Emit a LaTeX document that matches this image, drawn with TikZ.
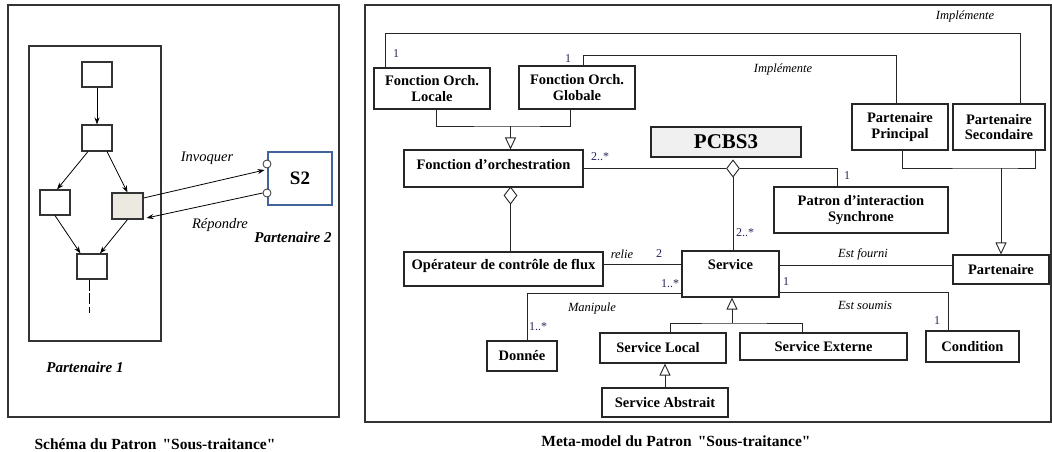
\documentclass[tikz,border=0pt]{standalone}
\usepackage{fontspec}
\setmainfont{Liberation Serif}
\newfontfamily\droit{Liberation Serif}
\newcommand\guil{{\droit\symbol{34}}}
\usepackage{xcolor}
\usetikzlibrary{arrows.meta, shapes.geometric}

\definecolor{bleuS}{RGB}{65,100,155}
\definecolor{grisTache}{RGB}{236,234,224}
\definecolor{grisPCBS}{RGB}{240,240,240}
\definecolor{cardi}{RGB}{35,35,85}

\begin{document}
\begin{tikzpicture}[x=1pt, y=-1pt,
    cadre/.style={draw=black!80, line width=1.2pt},
    tache/.style={draw=black!80, line width=1.1pt, minimum width=30, minimum height=25, inner sep=0pt},
    flux/.style={-{Stealth[length=7pt, width=5pt]}, line width=0.8pt},
    port/.style={circle, draw=black!80, fill=white, line width=0.8pt, minimum size=8, inner sep=0pt},
    classe/.style={draw=black!85, line width=1.1pt, inner sep=0pt, align=center, font=\fontsize{14.5}{15.5}\selectfont\bfseries},
    lien/.style={draw=black!85, line width=0.9pt},
    herite/.style={lien, -{Triangle[open, length=12pt, width=11pt]}},
    agreg/.style={diamond, draw=black!85, line width=0.9pt, fill=white, minimum width=13, minimum height=17, inner sep=0pt},
    role/.style={font=\fontsize{12.5}{14}\selectfont\itshape},
    card/.style={text=cardi, font=\fontsize{12}{14}\selectfont},
    legende/.style={font=\fontsize{15.5}{17}\selectfont\bfseries}]

    \useasboundingbox (0,0) rectangle (1052,452);

    % Schema of the sub-contracting pattern
    \draw[cadre] (8,5) rectangle (339,417);
    \draw[cadre] (29,46) rectangle (161,341);

    \node[tache] (t1) at (97,74.5) {};
    \node[tache, minimum height=26] (t2) at (97,138) {};
    \node[tache] (t3) at (55,202.5) {};
    \node[tache, fill=grisTache, minimum width=31, minimum height=26] (t4) at (127.5,206) {};
    \node[tache] (t5) at (92,266.5) {};
    \coordinate (suite) at (89,313);

    \draw[flux] (t1) -- (t2);
    \draw[flux] ([xshift=-9]t2.south) -- ([xshift=2]t3.north);
    \draw[flux] ([xshift=10]t2.south) -- (t4.north);
    \draw[flux] (t3.south) -- ([xshift=4]t5.north west);
    \draw[flux] (t4.south) -- ([xshift=8]t5.north);
    \draw[line width=0.8pt, dash pattern=on 11pt off 2.5pt] ([xshift=-3]t5.south) -- (suite);

    % partner 2 and its two ports
    \node[draw=bleuS, line width=1.8pt, minimum width=64, minimum height=53, inner sep=0pt,
          font=\fontsize{19}{20}\selectfont\bfseries] (s2) at (300,178.5) {S2};
    \node[port] (in1) at (267,164) {};
    \node[port] (in2) at (267,193) {};

    \draw[flux] ([yshift=8]t4.east) -- ([xshift=2,yshift=-6]in1.west);
    \draw[flux] (in2.west) -- ([xshift=3,yshift=-12]t4.east);

    \node[font=\fontsize{14.5}{16}\selectfont\itshape] (invoq) at (207,158) {Invoquer};
    \node[font=\fontsize{14.5}{16}\selectfont\itshape] (repond) at (220,225) {Répondre};
    \node[font=\fontsize{15}{16}\selectfont\bfseries\itshape] (part2) at (293,237) {Partenaire 2};
    \node[font=\fontsize{15}{16}\selectfont\bfseries\itshape] (part1) at (85,367) {Partenaire 1};
    \node[legende] (leg1) at (155,444) {Schéma du Patron\hspace{6pt}\guil Sous-traitance\guil};

    % Meta-model
    \draw[cadre] (365,5) rectangle (1051,422);

    \node[classe, minimum width=116, minimum height=41] (locale) at (432,88.5) {Fonction Orch.\\Locale};
    \node[classe, minimum width=116, minimum height=43] (globale) at (577,87.5) {Fonction Orch.\\Globale};
    \node[classe, minimum width=179, minimum height=37, text depth=8pt] (orch) at (493.5,168.5) {Fonction d’orchestration};
    \node[classe, fill=grisPCBS, minimum width=150, minimum height=30, font=\fontsize{21}{22}\selectfont\bfseries] (pcbs) at (726,142) {PCBS3};
    \node[classe, minimum width=96, minimum height=46] (principal) at (900,127) {Partenaire\\Principal};
    \node[classe, minimum width=92, minimum height=46] (secondaire) at (999,127) {Partenaire\\Secondaire};
    \node[classe, minimum width=174, minimum height=46] (patron) at (861,210) {Patron d’interaction\\Synchrone};
    \node[classe, minimum width=199, minimum height=34, text depth=9pt] (operateur) at (503.5,269) {Opérateur de contrôle de flux};
    \node[classe, minimum width=97, minimum height=46, text depth=20pt] (service) at (730.5,274) {Service};
    \node[classe, minimum width=96, minimum height=29] (partenaire) at (1001,269.5) {Partenaire};
    \node[classe, minimum width=70, minimum height=30] (donnee) at (522,356) {Donnée};
    \node[classe, minimum width=126, minimum height=30] (slocal) at (663,348) {Service Local\hspace{10pt}};
    \node[classe, minimum width=167, minimum height=27] (sexterne) at (823.5,346.5) {Service Externe};
    \node[classe, minimum width=93, minimum height=31] (condition) at (972.5,346.5) {Condition};
    \node[classe, minimum width=126, minimum height=29] (sabstrait) at (665,402.5) {Service Abstrait};

    % implementation links
    \draw[lien] ([xshift=12]locale.north west) -- ++(0,-34) -| ([xshift=21]secondaire.north);
    \draw[lien] ([xshift=6]globale.north) -- ++(0,-10) -| ([xshift=-4]principal.north);

    % generalisations
    \coordinate (jonc1) at (510.5,126);
    \draw[lien] ([xshift=4]locale.south) |- (jonc1) -| ([xshift=-7]globale.south);
    \draw[herite] (jonc1) -- ([xshift=17]orch.north);

    \coordinate (jonc2) at (1001,168);
    \draw[lien] ([xshift=2]principal.south) |- (jonc2) -| ([xshift=36]secondaire.south);
    \draw[herite] (jonc2) -- (partenaire.north);

    \coordinate (jonc3) at (732,323);
    \draw[lien] ([xshift=7]slocal.north) |- (jonc3) -| ([xshift=-21.5]sexterne.north);
    \draw[herite] (jonc3) -- ([xshift=1.5]service.south);

    \draw[herite] (sabstrait.north) -- (sabstrait.north |- slocal.south);

    % aggregations
    \node[agreg] (dg1) at (733,168.5) {};
    \node[agreg] (dg2) at (510.5,195.5) {};
    \draw[lien] (orch.east) -- (dg1.west);
    \draw[lien] (dg1.east) -| ([xshift=-24]patron.north);
    \draw[lien] (dg1.south) -- (dg1.south |- service.north);
    \draw[lien] (dg2.south) -- (dg2.south |- operateur.north);

    % associations
    \draw[lien] ([yshift=5]operateur.east) -- ([yshift=10]service.west);
    \draw[lien] ([yshift=-19]service.west) -| ([xshift=5]donnee.north);
    \draw[lien] ([yshift=9]service.east) -- ([yshift=4.5]partenaire.west);
    \draw[lien] ([yshift=-18]service.east) -| ([xshift=-24.5]condition.north);

    % roles
    \node[role] at (965,16) {Implémente};
    \node[role] at (783,69) {Implémente};
    \node[role] at (622,254) {relie};
    \node[role] at (592,308) {Manipule};
    \node[role] at (863,254) {Est fourni};
    \node[role] at (865,305) {Est soumis};

    % multiplicities
    \node[card] at (396,54) {1};
    \node[card] at (568,59) {1};
    \node[card] at (600,157) {2..*};
    \node[card] at (847,176) {1};
    \node[card] at (745,233) {2..*};
    \node[card] at (659,254) {2};
    \node[card] at (670,284) {1..*};
    \node[card] at (538,327) {1..*};
    \node[card] at (786,282) {1};
    \node[card] at (937,321) {1};

    \node[legende] (leg2) at (676,441) {Meta-model du Patron\hspace{6pt}\guil Sous-traitance\guil};
\end{tikzpicture}
\end{document}
